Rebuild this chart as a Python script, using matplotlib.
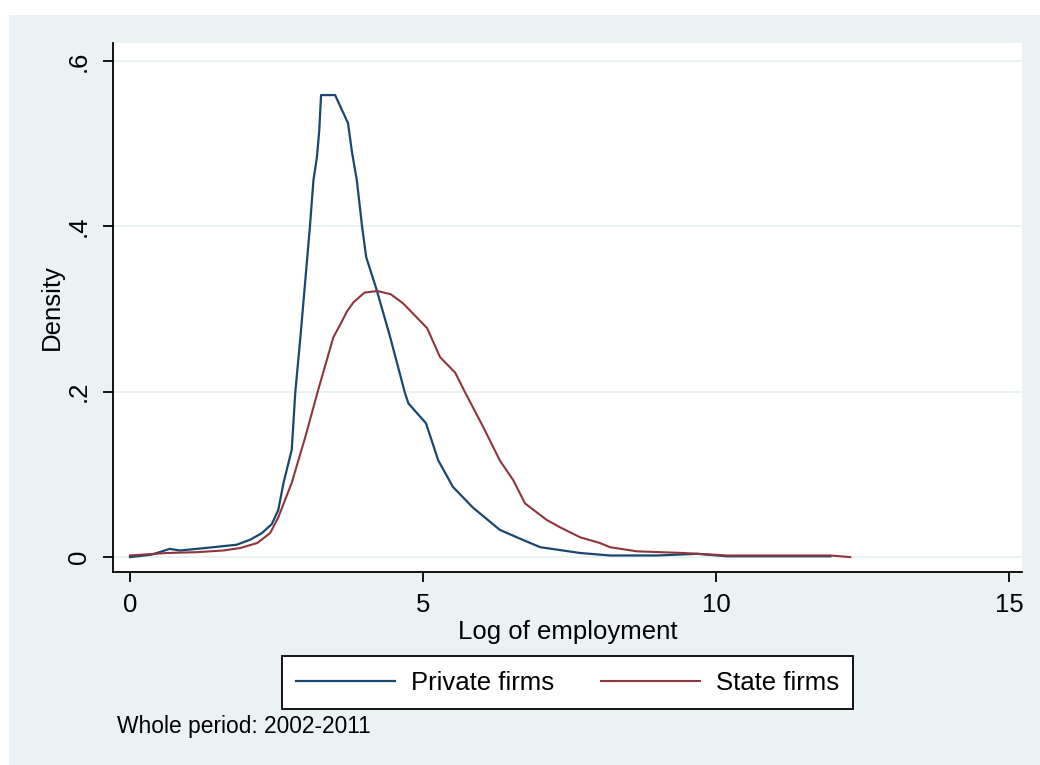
import matplotlib
matplotlib.use("Agg")
import matplotlib.pyplot as plt
from matplotlib.patches import Rectangle

plt.rcParams['font.family'] = ['Liberation Sans', 'DejaVu Sans']

# kernel density: log of employment vs density
private_x = [0.0, 0.37, 0.68, 0.85, 1.14, 1.42, 1.82, 2.05, 2.25, 2.42, 2.53,
             2.62, 2.76, 2.82, 2.91, 3.07, 3.13, 3.19, 3.23, 3.26, 3.50, 3.72,
             3.79, 3.87, 3.96, 4.03, 4.21, 4.44, 4.69, 4.75, 5.05, 5.26, 5.51,
             5.85, 6.31, 6.60, 7.00, 7.68, 8.19, 9.00, 9.68, 10.19, 11.95]
private_y = [0.000, 0.003, 0.010, 0.008, 0.010, 0.012, 0.015, 0.021, 0.029,
             0.040, 0.057, 0.090, 0.130, 0.199, 0.268, 0.400, 0.456, 0.484,
             0.517, 0.559, 0.559, 0.525, 0.489, 0.456, 0.400, 0.363, 0.323,
             0.266, 0.199, 0.186, 0.162, 0.117, 0.085, 0.060, 0.033, 0.024,
             0.012, 0.005, 0.002, 0.002, 0.004, 0.001, 0.001]

state_x = [0.0, 0.63, 1.14, 1.59, 1.88, 2.17, 2.39, 2.53, 2.76, 2.99, 3.21,
           3.47, 3.60, 3.70, 3.81, 4.00, 4.22, 4.45, 4.66, 5.07, 5.29, 5.55,
           5.72, 6.03, 6.31, 6.54, 6.74, 7.11, 7.34, 7.68, 8.02, 8.19, 8.65,
           9.44, 10.19, 11.95, 12.29]
state_y = [0.002, 0.005, 0.006, 0.008, 0.011, 0.017, 0.029, 0.048, 0.090,
           0.145, 0.202, 0.266, 0.283, 0.297, 0.308, 0.320, 0.322, 0.318,
           0.307, 0.277, 0.242, 0.223, 0.199, 0.157, 0.117, 0.093, 0.065,
           0.045, 0.036, 0.024, 0.017, 0.012, 0.007, 0.005, 0.002, 0.002, 0.0]

x_ticks = [0, 5, 10, 15]
y_ticks = [0, 0.2, 0.4, 0.6]
y_ticklabels = ['0', '.2', '.4', '.6']

W, H = 1040, 765
bg = '#EAF2F3'
navy = '#1A476F'
maroon = '#90353B'
fs = 18.5

fig = plt.figure(figsize=(W / 100, H / 100), dpi=100, facecolor='white')
fig.patches.append(Rectangle((9 / W, 0), 1 - 9 / W, 1 - 15 / H,
                             transform=fig.transFigure, facecolor=bg,
                             edgecolor='none', zorder=-10))

ax = fig.add_axes([113 / W, 1 - 572 / H, (1022 - 113) / W, (572 - 43) / H])
ax.set_facecolor('white')
ax.set_xlim(-0.29, 15.22)
ax.set_ylim(-0.018, 0.622)

l1, = ax.plot(private_x, private_y, color=navy, lw=1.6, label='Private firms')
l2, = ax.plot(state_x, state_y, color=maroon, lw=1.5, label='State firms')

ax.set_xticks(x_ticks)
ax.set_yticks(y_ticks)
ax.set_yticklabels(y_ticklabels, rotation=90, va='center')
ax.grid(axis='y', color=bg, lw=1.5)
ax.set_axisbelow(True)
for s in ['top', 'right']:
    ax.spines[s].set_visible(False)
for s in ['left', 'bottom']:
    ax.spines[s].set_linewidth(1.3)
ax.tick_params(axis='both', direction='out', length=7, width=1.3,
               labelsize=fs)
ax.tick_params(axis='y', pad=9)
ax.tick_params(axis='x', pad=8)

ax.set_xlabel('Log of employment', fontsize=fs, labelpad=2)
ax.set_ylabel('Density', fontsize=fs, labelpad=2)

leg = fig.legend(handles=[l1, l2], loc='center',
                 bbox_to_anchor=(567.5 / W, 1 - 682.5 / H), ncol=2,
                 fontsize=fs, frameon=True, fancybox=False,
                 handlelength=3.85, handletextpad=0.6, columnspacing=1.85,
                 borderpad=0.55, edgecolor='black', facecolor='white')
leg.get_frame().set_linewidth(1.3)
leg.get_frame().set_alpha(1)

fig.text(117 / W, 1 - 727 / H, 'Whole period: 2002-2011', fontsize=16.4,
         va='center', ha='left')

fig.savefig('out.png', dpi=100, facecolor=fig.get_facecolor())
